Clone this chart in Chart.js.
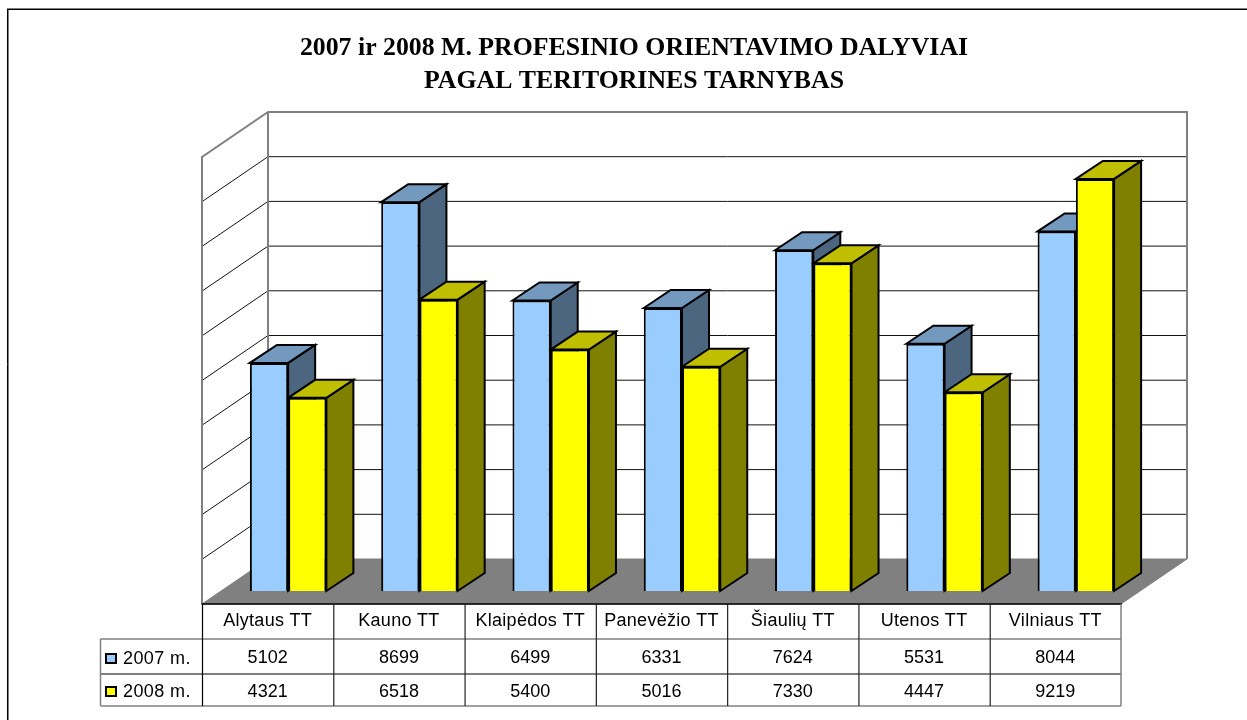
<!DOCTYPE html>
<html><head><meta charset="utf-8">
<style>html,body{margin:0;padding:0;background:#fff}canvas{display:block}</style>
<script src="https://cdn.jsdelivr.net/npm/chart.js@4"></script></head>
<body><div style="width:1247px;height:720px"><canvas id="c" width="1247" height="720"></canvas></div>
<script>
const categories=['Alytaus TT','Kauno TT','Klaipėdos TT','Panevėžio TT','Šiaulių TT','Utenos TT','Vilniaus TT'];
const seriesNames=['2007 m.','2008 m.'];
const values2007=[5102,8699,6499,6331,7624,5531,8044];
const values2008=[4321,6518,5400,5016,7330,4447,9219];
const titleLines=['2007 ir 2008 M. PROFESINIO ORIENTAVIMO DALYVIAI','PAGAL TERITORINES TARNYBAS'];
const GREY='#808080';
const faces=[{front:'#99ccff',top:'#7399bf',side:'#4d6680'},{front:'#ffff00',top:'#bfbf00',side:'#808000'}];
const depth={barX:27,barY:18,backX:45.5,backY:32,frontX:20.5,frontY:13};
function poly(ctx,pts,fill,stroke,lw){ctx.beginPath();pts.forEach((p,i)=>i?ctx.lineTo(p[0],p[1]):ctx.moveTo(p[0],p[1]));ctx.closePath();
 if(fill){ctx.fillStyle=fill;ctx.fill();} if(stroke){ctx.strokeStyle=stroke;ctx.lineWidth=lw;ctx.lineJoin='miter';ctx.stroke();}}
function seg(ctx,a,b,c,d,col,lw){ctx.beginPath();ctx.moveTo(a,b);ctx.lineTo(c,d);ctx.strokeStyle=col;ctx.lineWidth=lw;ctx.stroke();}
const scene={id:'scene',
 beforeDatasetsDraw(chart){
  const ctx=chart.ctx,xs=chart.scales.x,ys=chart.scales.y,d=depth;
  const L=xs.left,R=xs.right,B=ys.bottom,T=ys.top;
  const bl=L+d.backX,br=R+d.backX,bb=B-d.backY,bt=T-d.backY;
  const fl=L-d.frontX,fr=R-d.frontX,fb=B+d.frontY,ft=T+d.frontY;
  ctx.save();
  seg(ctx,7,8.5,1247,8.5,GREY,1);
  seg(ctx,7,9.5,1247,9.5,'#000',1);
  seg(ctx,8.5,10,8.5,720,GREY,1);
  seg(ctx,7.5,9,7.5,720,'#000',1);
  ys.ticks.forEach(t=>{const y=ys.getPixelForValue(t.value);
    if(t.value===0||t.value===ys.max)return;
    seg(ctx,fl,y+d.frontY,bl,y-d.backY,'#111',1);
    seg(ctx,bl,y-d.backY,br,y-d.backY,'#111',1);
  });
  ctx.beginPath();ctx.moveTo(fl,fb);ctx.lineTo(fl,ft);ctx.lineTo(bl,bt);ctx.lineTo(br,bt);ctx.lineTo(br,bb);
  ctx.strokeStyle=GREY;ctx.lineWidth=2;ctx.stroke();
  seg(ctx,bl,bt,bl,bb,GREY,2);
  poly(ctx,[[fl,fb],[bl,bb],[br,bb],[fr,fb]],GREY,GREY,1);
  [0,1].forEach(i=>{
   chart.getDatasetMeta(i).data.forEach(b=>{
    const x0=b.x-b.width/2,x1=b.x+b.width/2,y=b.y,base=b.base;
    poly(ctx,[[x1,y],[x1+d.barX,y-d.barY],[x1+d.barX,base-d.barY],[x1,base]],faces[i].side,'#000',2);
    poly(ctx,[[x0,y],[x0+d.barX,y-d.barY],[x1+d.barX,y-d.barY],[x1,y]],faces[i].top,'#000',2);
   });
  });
  ctx.restore();
 },
 afterDatasetsDraw(chart){
  const ctx=chart.ctx,xs=chart.scales.x,ys=chart.scales.y,d=depth;
  const step=(xs.right-xs.left)/categories.length;
  const left=xs.left-d.frontX,top=ys.bottom+d.frontY;
  const r1=top+35,r2=r1+35,r3=r2+32,head=100.5;
  ctx.save();
  const tl=left+.5,right=left+categories.length*step;
  seg(ctx,tl-1,top,right+1,top,'#000',1.5);
  seg(ctx,head,r1,right,r1,GREY,1.5);
  seg(ctx,head,r2,right,r2,'#000',1.2);
  seg(ctx,head,r3,right,r3,GREY,1.5);
  seg(ctx,head,r1,head,r3,GREY,1.5);
  seg(ctx,right,top,right,r3,GREY,1.5);
  for(let i=0;i<categories.length;i++){seg(ctx,tl+i*step,top,tl+i*step,r3,i?'#222':'#000',1.2);}
  ctx.fillStyle='#000';ctx.textBaseline='middle';ctx.textAlign='center';
  ctx.font='18px "Liberation Sans"';
  categories.forEach((c,i)=>{const cx=left+(i+.5)*step;
    ctx.letterSpacing='0.3px';
    ctx.fillText(c,cx,top+17.5);
    ctx.letterSpacing='0px';
    ctx.fillText(String(values2007[i]),cx,r1+19);
    ctx.fillText(String(values2008[i]),cx,r2+18);
  });
  ctx.textAlign='left';
  [[r1+20,0],[r2+18,1]].forEach(([y,i])=>{
    ctx.fillStyle=faces[i].front;ctx.strokeStyle='#000';ctx.lineWidth=2;
    ctx.fillRect(106,y-5,10,9);ctx.strokeRect(106,y-5,10,9);
    ctx.fillStyle='#000';ctx.letterSpacing='0.4px';ctx.fillText(seriesNames[i],123,y+.5);ctx.letterSpacing='0px';
  });
  ctx.restore();
 }};
new Chart(document.getElementById('c'),{type:'bar',
 data:{labels:categories,datasets:[
  {label:seriesNames[0],data:values2007,backgroundColor:faces[0].front,borderColor:'#000',borderWidth:2},
  {label:seriesNames[1],data:values2008,backgroundColor:faces[1].front,borderColor:'#000',borderWidth:2}]},
 options:{responsive:false,animation:false,
  layout:{padding:{left:21,right:0,top:0,bottom:0}},
  datasets:{bar:{categoryPercentage:76.5/131.3,barPercentage:1}},
  plugins:{legend:{display:false},tooltip:{enabled:false},
   title:{display:true,text:titleLines,color:'#000',font:{family:'"Liberation Serif"',size:25.8,weight:'bold',lineHeight:33/25.8},padding:{top:32,bottom:46}}},
  scales:{
   x:{offset:true,grid:{display:false},border:{display:false},ticks:{display:false},afterFit(s){s.height=129;}},
   y:{min:0,max:10000,grid:{display:false},border:{display:false},ticks:{display:false,stepSize:1000},afterFit(s){s.width=201.5;}},
   yRight:{position:'right',grid:{display:false},border:{display:false},ticks:{display:false},afterFit(s){s.width=105.5;}}}},
 plugins:[scene]});
</script></body></html>
